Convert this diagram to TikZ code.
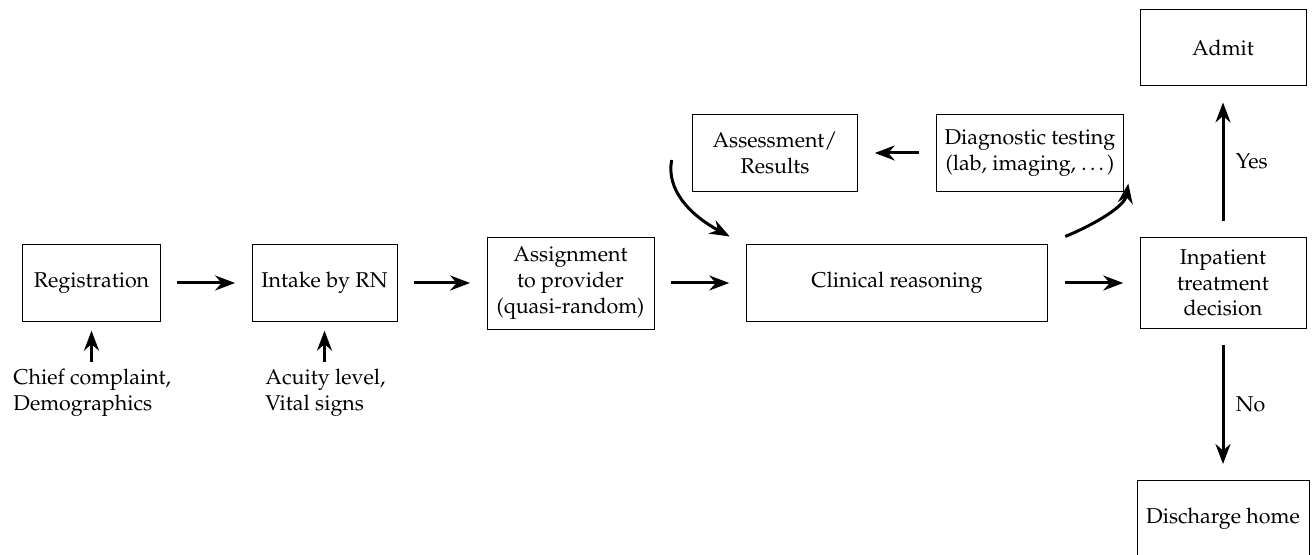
\documentclass[tikz,border=0pt]{standalone}
\usepackage[T1]{fontenc}
\usepackage{mathpazo}
\usetikzlibrary{arrows.meta,positioning}
\tikzset{
  stage/.style={draw, align=center, minimum height=1.25cm},
  flow/.style={->, line width=1.4pt, shorten >=0.27cm, shorten <=0.27cm},
  info/.style={align=left, inner sep=0pt, anchor=north west}
}
\begin{document}
\begin{tikzpicture}[>={Stealth}, x=0.0164cm, y=-0.0164cm]
\useasboundingbox (0,0) rectangle (1312,555);
% main line
\node[stage, minimum width=2.25cm](reg) at (91.5,283){Registration};
\node[stage, minimum width=2.38cm](intake) at (324.5,283){Intake by RN};
\node[stage, minimum width=2.74cm, minimum height=1.51cm](assign) at (570.5,283){Assignment\\to provider\\(quasi-random)};
\node[stage, minimum width=4.95cm](clin) at (897,283){Clinical reasoning};
\node[stage, minimum width=2.72cm, minimum height=1.48cm](decide) at (1223,283){Inpatient\\treatment\\decision};
% testing loop
\node[stage, minimum width=2.72cm](assess) at (775,153){Assessment/\\Results};
\node[stage, minimum width=3.08cm](diag) at (1030,153){Diagnostic testing\\(lab, imaging, \ldots)};
% outcomes
\node[stage, minimum width=2.72cm](admit) at (1223,47.5){Admit};
\node[stage, minimum width=2.82cm](home) at (1223,519){Discharge home};
% inputs
\node[info](cc) at (13,369){Chief complaint,\\Demographics};
\node[info](vital) at (265,369){Acuity level,\\Vital signs};

\draw[flow](reg)--(intake);
\draw[flow](intake)--(assign);
\draw[flow](assign)--(clin);
\draw[flow](clin)--(decide);
\draw[flow](diag)--(assess);
\draw[flow, shorten <=0.11cm, shorten >=0.15cm](cc.north -| reg.south)--(reg);
\draw[flow, shorten <=0.11cm, shorten >=0.15cm](vital.north -| intake.south)--(intake);
\draw[flow](decide)--node[right=2pt]{Yes}(admit);
\draw[flow](decide)--node[right=2pt]{No}(home);
\draw[->, line width=1.4pt]([shift={(-20,7)}]assess.west)..controls (666,190) and (690,215)..([shift={(-16,-8)}]clin.north west);
\draw[->, line width=1.4pt]([shift={(17,-8)}]clin.north east)..controls (1100,222) and (1125,205)..([shift={(4,-8)}]diag.south east);
\end{tikzpicture}
\end{document}
